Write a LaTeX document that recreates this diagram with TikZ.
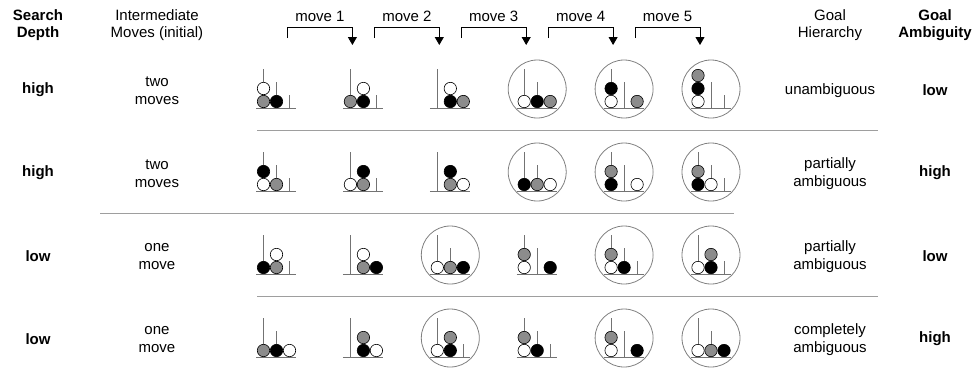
\documentclass[tikz,border=0pt]{standalone}
\usepackage{fontspec}
\setmainfont{Liberation Sans}
\usetikzlibrary{arrows.meta}
\definecolor{ballgray}{gray}{0.55}
\definecolor{peggray}{gray}{0.45}
\definecolor{rulegray}{gray}{0.62}
% one board: centre x, base y, balls as peg/level/colour
\newcommand\DrawState[3]{
	\draw[peg] (#1-20.5,#2) -- (#1+19.5,#2);
	\draw[peg] (#1-13,#2) -- (#1-13,#2-39);
	\draw[peg] (#1,#2) -- (#1,#2-26);
	\draw[peg] (#1+13,#2) -- (#1+13,#2-13.5);
	\foreach \p/\l/\c in {#3}
	{
		\draw[ball, fill=\c] (#1-13+13*\p,#2-6.5-13*\l) circle (6.2pt);
	}
}
\newcommand\Ring[2]{
	\draw[ring] (#1,#2-19) circle (29pt);
}
\newcommand*{\xA}{276.5}
\newcommand*{\xB}{363.4}
\newcommand*{\xC}{450.3}
\newcommand*{\xD}{537.2}
\newcommand*{\xE}{624.1}
\newcommand*{\xF}{711.0}
\newcommand*{\yA}{108}
\newcommand*{\yB}{191}
\newcommand*{\yC}{274}
\newcommand*{\yD}{357}

\begin{document}
\begin{tikzpicture}[x=1pt, y=-1pt,
	every node/.style={font=\fontsize{15}{17.5}\selectfont, align=center, inner sep=0pt},
	head/.style={font=\fontsize{15}{17.5}\selectfont\bfseries},
	peg/.style={draw=peggray, line width=1pt},
	ball/.style={draw=black, line width=0.6pt},
	ring/.style={draw=gray, line width=0.8pt},
	sep/.style={draw=rulegray, line width=1pt},
	bracket/.style={draw=black, line width=0.8pt, -{Triangle[width=9pt,length=8pt]}}]
	\useasboundingbox (0,0) rectangle (972,368);

	% column headings
	\node[head] (depth) at (38,25) {Search\\Depth};
	\node (inter) at (157,25) {Intermediate\\Moves (initial)};
	\node (hier) at (830,25) {Goal\\Hierarchy};
	\node[head] (ambig) at (935,25) {Goal\\Ambiguity};

	% move brackets
	\foreach \k in {1,...,6}
		\coordinate (top\k) at (\xA+86.9*\k-86.9,27);
	\foreach \k [evaluate=\k as \j using int(\k+1)] in {1,...,5}
		\path[bracket] ([xshift=11pt]top\k) ++(0,11) -- ([xshift=11pt]top\k)
			-- node[anchor=base, yshift=6pt] (mv\k) {move \k} ([xshift=-11pt]top\j) -- ++(0,18);

	% row labels
	\foreach \y/\d/\m/\h/\a [count=\r] in {90/high/two\\moves/unambiguous/low,
		173/high/two\\moves/partially\\ambiguous/high,
		256/low/one\\move/partially\\ambiguous/low,
		339/low/one\\move/completely\\ambiguous/high}
	{
		\node[head] (sd\r) at (38,\y) {\d};
		\node (im\r) at (157,\y+0.5) {\m};
		\node (gh\r) at (830,\y+0.5) {\h};
		\node[head] (ga\r) at (935,\y) {\a};
	}

	% separators
	\draw[sep] (257,130.5) -- (878,130.5);
	\draw[sep] (100,213) -- (734,213);
	\draw[sep] (257,296) -- (878,296);

	% row 1
	\DrawState{\xA}{\yA}{0/0/ballgray, 0/1/white, 1/0/black}
	\DrawState{\xB}{\yA}{0/0/ballgray, 1/0/black, 1/1/white}
	\DrawState{\xC}{\yA}{1/0/black, 1/1/white, 2/0/ballgray}
	\DrawState{\xD}{\yA}{0/0/white, 1/0/black, 2/0/ballgray}
	\DrawState{\xE}{\yA}{0/0/white, 0/1/black, 2/0/ballgray}
	\DrawState{\xF}{\yA}{0/0/white, 0/1/black, 0/2/ballgray}
	\Ring{\xD}{\yA} \Ring{\xE}{\yA} \Ring{\xF}{\yA}
	% row 2
	\DrawState{\xA}{\yB}{0/0/white, 0/1/black, 1/0/ballgray}
	\DrawState{\xB}{\yB}{0/0/white, 1/0/ballgray, 1/1/black}
	\DrawState{\xC}{\yB}{1/0/ballgray, 1/1/black, 2/0/white}
	\DrawState{\xD}{\yB}{0/0/black, 1/0/ballgray, 2/0/white}
	\DrawState{\xE}{\yB}{0/0/black, 0/1/ballgray, 2/0/white}
	\DrawState{\xF}{\yB}{0/0/black, 0/1/ballgray, 1/0/white}
	\Ring{\xD}{\yB} \Ring{\xE}{\yB} \Ring{\xF}{\yB}
	% row 3
	\DrawState{\xA}{\yC}{0/0/black, 1/0/ballgray, 1/1/white}
	\DrawState{\xB}{\yC}{1/0/ballgray, 1/1/white, 2/0/black}
	\DrawState{\xC}{\yC}{0/0/white, 1/0/ballgray, 2/0/black}
	\DrawState{\xD}{\yC}{0/0/white, 0/1/ballgray, 2/0/black}
	\DrawState{\xE}{\yC}{0/0/white, 0/1/ballgray, 1/0/black}
	\DrawState{\xF}{\yC}{0/0/white, 1/0/black, 1/1/ballgray}
	\Ring{\xC}{\yC} \Ring{\xE}{\yC} \Ring{\xF}{\yC}
	% row 4
	\DrawState{\xA}{\yD}{0/0/ballgray, 1/0/black, 2/0/white}
	\DrawState{\xB}{\yD}{1/0/black, 1/1/ballgray, 2/0/white}
	\DrawState{\xC}{\yD}{0/0/white, 1/0/black, 1/1/ballgray}
	\DrawState{\xD}{\yD}{0/0/white, 0/1/ballgray, 1/0/black}
	\DrawState{\xE}{\yD}{0/0/white, 0/1/ballgray, 2/0/black}
	\DrawState{\xF}{\yD}{0/0/white, 1/0/ballgray, 2/0/black}
	\Ring{\xC}{\yD} \Ring{\xE}{\yD} \Ring{\xF}{\yD}
\end{tikzpicture}
\end{document}
